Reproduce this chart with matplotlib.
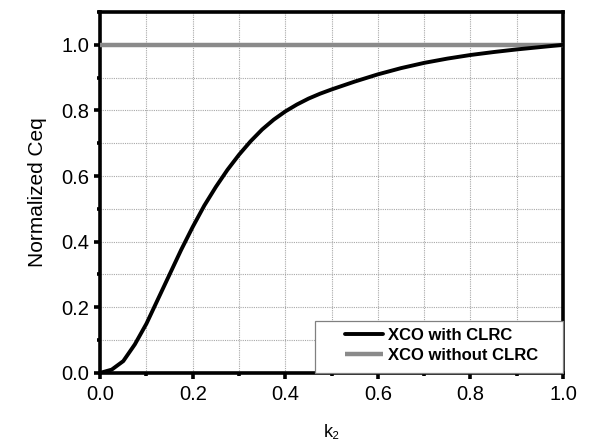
import matplotlib
matplotlib.use("Agg")
import matplotlib.pyplot as plt
from matplotlib.ticker import MultipleLocator
from matplotlib.patches import Rectangle

plt.rcParams['font.family'] = ['Liberation Sans', 'DejaVu Sans']

k2 = [0.0, 0.025, 0.05, 0.075, 0.1, 0.125, 0.15, 0.175, 0.2, 0.225, 0.25, 0.275, 0.3,
      0.325, 0.35, 0.375, 0.4, 0.425, 0.45, 0.475, 0.5, 0.55, 0.6, 0.65, 0.7, 0.75,
      0.8, 0.85, 0.9, 0.95, 1.0]
ceq_with = [0.0, 0.01, 0.036, 0.087, 0.15, 0.225, 0.30, 0.375, 0.445, 0.51, 0.567,
            0.619, 0.665, 0.706, 0.742, 0.772, 0.797, 0.818, 0.836, 0.851, 0.864, 0.888,
            0.91, 0.929, 0.945, 0.958, 0.969, 0.978, 0.986, 0.993, 1.0]
k2_without = [0.0, 1.0]
ceq_without = [1.0, 1.0]

fig = plt.figure(figsize=(5.89, 4.45), dpi=100)
ax = fig.add_axes([0.170, 0.162, 0.786, 0.811])

ax.plot(k2_without, ceq_without, color='#8a8a8a', lw=3.2, label='XCO without CLRC',
        zorder=3, solid_capstyle='butt')
ax.plot(k2, ceq_with, color='black', lw=2.8, label='XCO with CLRC', zorder=4,
        solid_capstyle='round', solid_joinstyle='round')

ax.set_xlim(0, 1.0)
ax.set_ylim(0, 1.1)
ax.xaxis.set_major_locator(MultipleLocator(0.2))
ax.xaxis.set_minor_locator(MultipleLocator(0.1))
ax.yaxis.set_major_locator(MultipleLocator(0.2))
ax.yaxis.set_minor_locator(MultipleLocator(0.1))
ax.grid(which='both', color='#a8a8a8', linestyle=(0, (1, 1)), lw=0.8)
ax.set_axisbelow(True)

for s in ax.spines.values():
    s.set_linewidth(2.6)
ax.tick_params(which='major', direction='out', length=4, width=2.6, labelsize=14.5)
ax.tick_params(axis='x', which='major', pad=5)
ax.tick_params(axis='y', which='major', pad=4)
ax.tick_params(which='minor', direction='out', length=2.5, width=2.6)

ax.set_xlabel('k₂', fontsize=13, labelpad=14)
ax.set_ylabel('Normalized Ceq', fontsize=15, labelpad=10)

# legend box
ax.add_patch(Rectangle((0.4644, 0.0), 0.5356, 0.144, transform=ax.transAxes,
                       facecolor='white', edgecolor='#808080', lw=0.9, zorder=5,
                       clip_on=False))
h, l = ax.get_legend_handles_labels()
leg = ax.legend(h[::-1], l[::-1], loc='center left', bbox_to_anchor=(0.529, 0.076),
                frameon=False, prop={'weight': 'bold', 'size': 12},
                borderaxespad=0.0, handlelength=2.3, borderpad=0.0,
                labelspacing=0.28, handletextpad=0.3)
leg.set_zorder(6)

fig.savefig('out.png', dpi=100)
